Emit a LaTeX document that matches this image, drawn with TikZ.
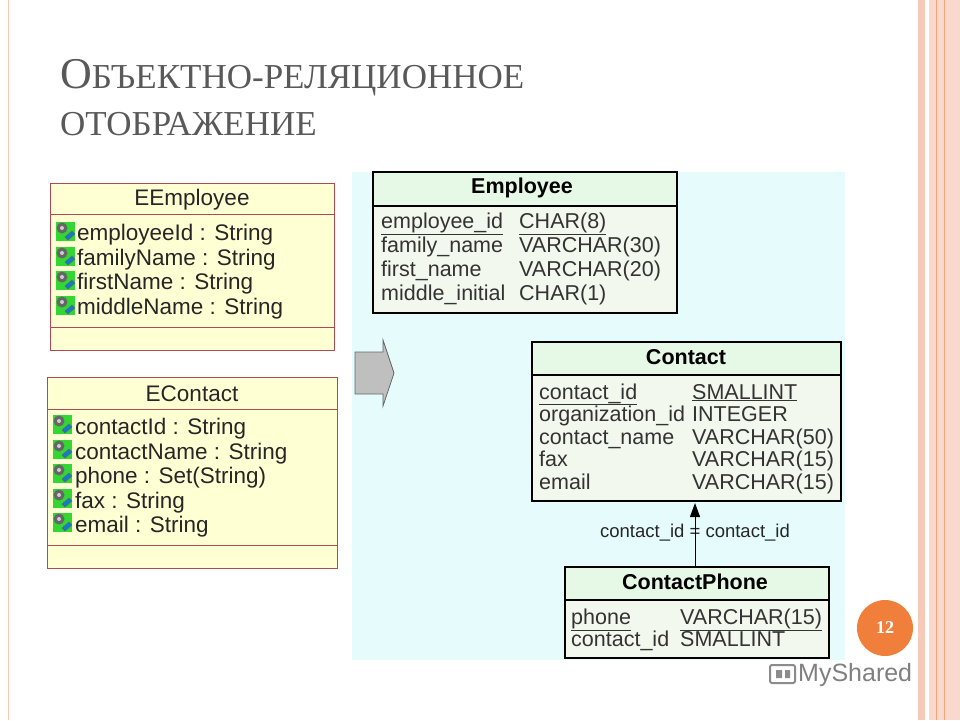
\documentclass[tikz,border=0pt]{standalone}
\usepackage{fontspec}
\setmainfont{Liberation Sans}
\newfontfamily\serif{Liberation Serif}
\usetikzlibrary{arrows.meta}
\definecolor{uml}{HTML}{FFFFD4}
\definecolor{umlb}{HTML}{B04A50}
\definecolor{cy}{HTML}{E6FCFC}
\definecolor{hd}{HTML}{E6F8E6}
\definecolor{bd}{HTML}{F2F8EE}
\definecolor{og}{HTML}{F07F3C}
\definecolor{pk}{HTML}{F6C9B8}
\definecolor{ig}{HTML}{33D633}
\tikzset{x=1pt,y=-1pt,
 attr/.style={anchor=base west,inner sep=0pt,font=\fontsize{22.5}{22.5}\selectfont,text=black!85},
 ttl/.style={anchor=center,inner sep=0pt,font=\fontsize{22.5}{22.5}\selectfont,text=black!85},
 cell/.style={anchor=base west,inner sep=0pt,font=\fontsize{21.5}{21.5}\selectfont,text=black!80},
 thd/.style={anchor=center,inner sep=0pt,font=\bfseries\fontsize{21.5}{21.5}\selectfont},
 icon/.style={fill=ig,minimum size=19pt,inner sep=0pt},
 tb/.style={draw=black,line width=2.5pt},
 ub/.style={draw=umlb,line width=1pt,fill=uml}}
\newcommand{\ic}[2]{\node[icon] (#1) at (#2) {};
 \fill[black!60] ([shift={(-3,-3)}]#1.center) circle (5.5);
 \fill[white!80!black] ([shift={(-3,-3)}]#1.center) circle (2);
 \fill[cyan!60!blue,draw=black!60,line width=0.4pt] ([shift={(0,6)}]#1.center) -- ++(7,-6) -- ++(3,3) -- ++(-7,6) -- cycle;}
\begin{document}
\begin{tikzpicture}
\useasboundingbox (0,0) rectangle (960,720);
\fill[white] (0,0) rectangle (960,720);
% right stripes
\fill[pk] (918,0) rectangle (925,720);
\fill[pk!70] (929,0) rectangle (960,720);
\draw[og!70,line width=0.6pt] (936,0) -- (936,720) (944,0)--(944,720);
\draw[pk,line width=0.8pt] (8,0) -- (8,720);
% title
\node[anchor=base west,inner sep=0pt,text=black!65,font=\serif] (t1) at (60,88)
 {{\fontsize{44}{44}\selectfont О}{\fontsize{35}{35}\selectfont БЪЕКТНО-РЕЛЯЦИОННОЕ}};
\node[anchor=base west,inner sep=0pt,text=black!65,font=\serif\fontsize{35}{35}\selectfont] (t2) at (60,135) {ОТОБРАЖЕНИЕ};
% cyan bg
\fill[cy] (352,172) rectangle (845,660);
% EEmployee
\draw[ub] (50,183) rectangle (334,350);
\draw[umlb,line width=1pt] (50,214) -- (334,214) (50,327) -- (334,327);
\node[ttl] (ee) at (192,200) {EEmployee};
\ic{i1}{65,231}\ic{i2}{65,256}\ic{i3}{65,280}\ic{i4}{65,305}
\node[attr] (a1) at (77,240) {employeeId : String};
\node[attr] (a2) at (77,265) {familyName : String};
\node[attr] (a3) at (77,289) {firstName : String};
\node[attr] (a4) at (77,314) {middleName : String};
% EContact
\draw[ub] (47,377) rectangle (337,568);
\draw[umlb,line width=1pt] (47,409) -- (337,409) (47,545) -- (337,545);
\node[ttl] (ec) at (192,394) {EContact};
\ic{j1}{62,424}\ic{j2}{62,449}\ic{j3}{62,473}\ic{j4}{62,498}\ic{j5}{62,522}
\node[attr] (b1) at (75,434) {contactId : String};
\node[attr] (b2) at (75,459) {contactName : String};
\node[attr] (b3) at (75,483) {phone : Set(String)};
\node[attr] (b4) at (75,508) {fax : String};
\node[attr] (b5) at (75,532) {email : String};
% block arrow
\draw[black!60,fill=black!25,line width=0.8pt] (355,352) -- (383,352) -- (383,340) -- (394,373) -- (383,406) -- (383,394) -- (355,394) -- cycle;
% Employee table
\fill[bd] (373,206) rectangle (677,313);
\fill[hd] (373,172) rectangle (677,206);
\draw[tb] (373,172) rectangle (677,313);
\draw[tb] (373,206) -- (677,206);
\node[thd] (emp) at (522,188) {Employee};
\node[cell] (e1) at (381,228) {\underline{employee\_id}};
\node[cell] (e1b) at (519,228) {\underline{CHAR(8)}};
\node[cell] (e2) at (381,252) {family\_name};
\node[cell] (e2b) at (519,252) {VARCHAR(30)};
\node[cell] (e3) at (381,276) {first\_name};
\node[cell] (e3b) at (519,276) {VARCHAR(20)};
\node[cell] (e4) at (381,300) {middle\_initial};
\node[cell] (e4b) at (519,300) {CHAR(1)};
% Contact table
\fill[bd] (532,375) rectangle (841,501);
\fill[hd] (532,342) rectangle (841,375);
\draw[tb] (532,342) rectangle (841,501);
\draw[tb] (532,375) -- (841,375);
\node[thd] (con) at (686,357) {Contact};
\node[cell] (c1) at (539,399) {\underline{contact\_id}};
\node[cell] (c1b) at (692,399) {\underline{SMALLINT}};
\node[cell] (c2) at (539,421) {organization\_id};
\node[cell] (c2b) at (692,421) {INTEGER};
\node[cell] (c3) at (539,444) {contact\_name};
\node[cell] (c3b) at (692,444) {VARCHAR(50)};
\node[cell] (c4) at (539,466) {fax};
\node[cell] (c4b) at (692,466) {VARCHAR(15)};
\node[cell] (c5) at (539,489) {email};
\node[cell] (c5b) at (692,489) {VARCHAR(15)};
% ContactPhone
\fill[bd] (565,600) rectangle (829,658);
\fill[hd] (565,567) rectangle (829,600);
\draw[tb] (565,567) rectangle (829,658);
\draw[tb] (565,600) -- (829,600);
\node[thd] (cp) at (695,582) {ContactPhone};
\node[cell] (p1) at (571,624) {\underline{phone}};
\node[cell] (p1b) at (680,624) {\underline{VARCHAR(15)}};
\node[cell] (p2) at (571,646) {contact\_id};
\node[cell] (p2b) at (680,646) {SMALLINT};
% connector
\coordinate (s) at (695,566);
\coordinate (t) at (695,503);
\draw[black,line width=1pt,-{Triangle[length=14pt,width=10pt]}] (s) -- (t);
\node[inner sep=0pt,font=\fontsize{18.5}{18.5}\selectfont,text=black!85] (lbl) at (695,533) {contact\_id = contact\_id};
\draw[black,line width=1pt] (695,526) -- (695,541);
% page number
\fill[og] (885,628) circle (28);
\node[text=white,font=\serif\bfseries\fontsize{18}{18}\selectfont] (pn) at (885,628) {12};
% logo
\draw[black!45,line width=2pt,rounded corners=2pt] (770,665) rectangle (795,683);
\fill[black!45] (776,670) rectangle (782,678) (785,670) rectangle (790,678);
\node[anchor=west,inner sep=0pt,text=black!50,font=\fontsize{25}{25}\selectfont] (logo) at (798,675) {MyShared};
\end{tikzpicture}
\end{document}
